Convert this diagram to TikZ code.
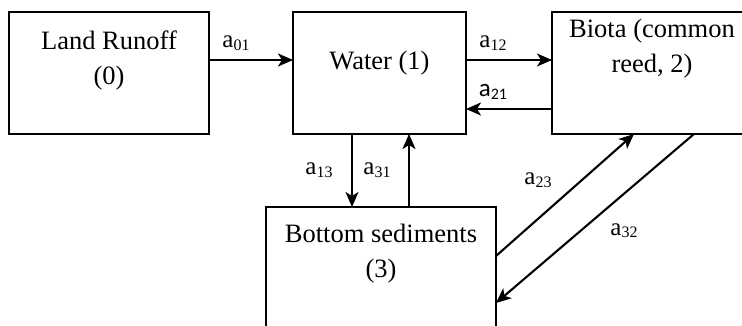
\documentclass[tikz,border=0pt]{standalone}
\usepackage{fontspec}
\setmainfont{Liberation Serif}
\newfontfamily\calfont{Carlito}
\usetikzlibrary{arrows.meta,calc}
\newcommand{\lab}[2]{{\fontsize{25}{25}\selectfont #1\raisebox{-2.5pt}{\fontsize{16}{16}\selectfont #2}}}
\begin{document}
\begin{tikzpicture}[x=1pt,y=-1pt,
  box/.style={draw,line width=2.1pt,rectangle,outer sep=0pt,inner sep=0pt,anchor=north west},
  txt/.style={align=center,font=\fontsize{26.5}{35}\selectfont,inner sep=0pt},
  lbl/.style={anchor=base,inner sep=0pt},
  arr/.style={line width=2.1pt,-{Stealth[length=15pt,width=13pt,inset=4pt]}}]
\useasboundingbox (0,0) rectangle (742,326);
\clip (0,0) rectangle (742,326);
\node[box,minimum width=200pt,minimum height=122pt] (b0) at (9,12) {};
\node[box,minimum width=173pt,minimum height=122pt] (b1) at (293,12) {};
\node[box,minimum width=200pt,minimum height=122pt] (b2) at (552,12) {};
\node[box,minimum width=230pt,minimum height=140pt] (b3) at (266,207) {};
\node[txt] (t0) at (109,60) {Land Runoff\\(0)};
\node[txt] (t1) at (379.5,63) {Water (1)};
\node[txt] (t2) at (652,49) {Biota (common\\reed, 2)};
\node[txt] (t3) at (381,254) {Bottom sediments\\(3)};
\draw[arr] (b0.east |- 0,60) -- (b1.west |- 0,60);
\draw[arr] (b1.east |- 0,60) -- (b2.west |- 0,60);
\draw[arr] (b2.west |- 0,109) -- (b1.east |- 0,109);
\draw[arr] (b1.south -| 352,0) -- (b3.north -| 352,0);
\draw[arr] (b3.north -| 409,0) -- (b1.south -| 409,0);
\draw[arr] (b3.east |- 0,256) -- (b2.south -| 634,0);
\draw[arr] (b2.south -| 694,0) -- (b3.east |- 0,303);
\node[lbl] (l01) at (236,48) {\lab{a}{01}};
\node[lbl] (l12) at (493,48) {\lab{a}{12}};
\node[lbl] (l21) at (493,97) {\calfont\lab{a}{21}};
\node[lbl] (l13) at (319,175) {\lab{a}{13}};
\node[lbl] (l31) at (377,175) {\lab{a}{31}};
\node[lbl] (l23) at (538,185) {\lab{a}{23}};
\node[lbl] (l32) at (624,235) {\lab{a}{32}};
\end{tikzpicture}
\end{document}
